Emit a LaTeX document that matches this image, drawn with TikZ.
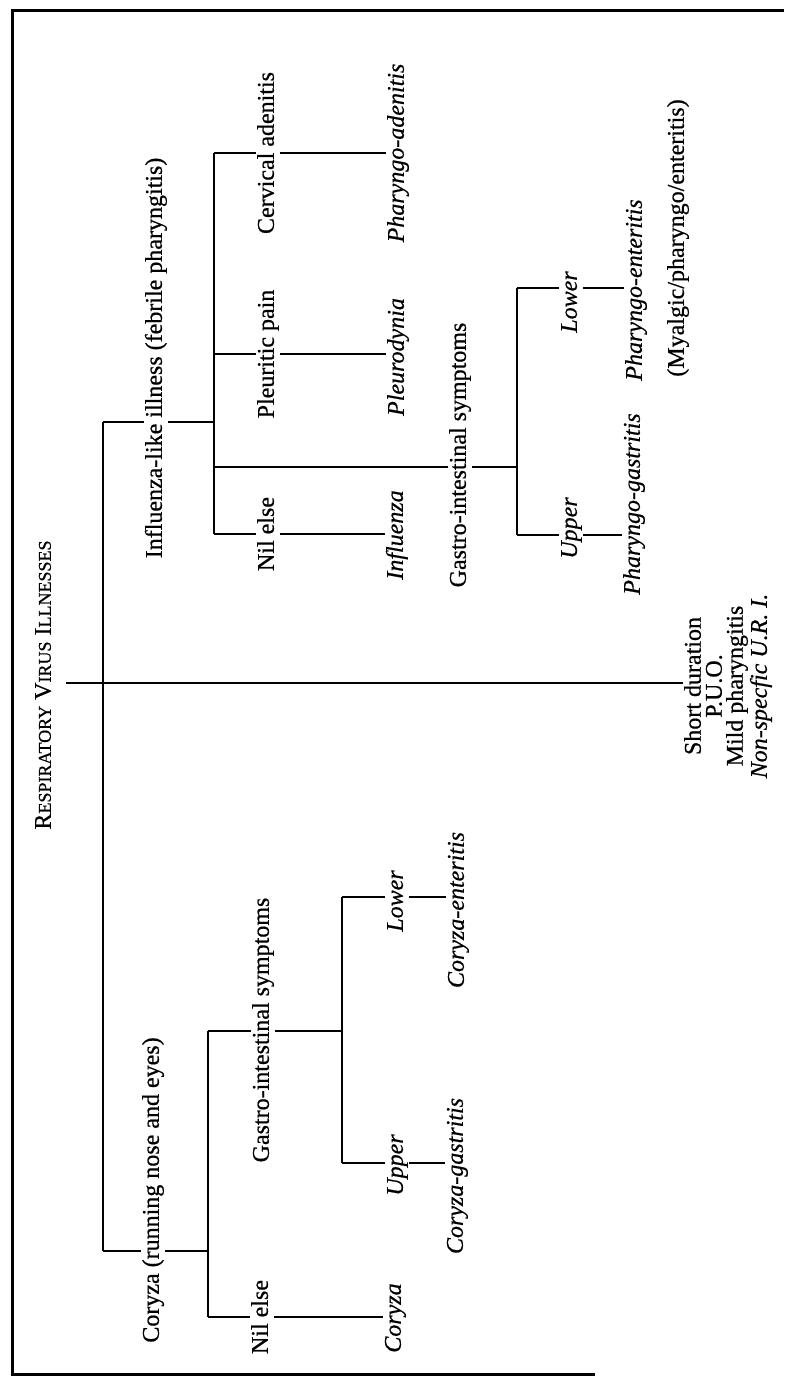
\documentclass[tikz,border=0pt]{standalone}
\usepackage{fontspec}
\setmainfont{Liberation Serif}[FakeBold=0.6]
\usetikzlibrary{backgrounds}
\newcommand\smallcap[2]{#1{\fontsize{9}{10}\selectfont #2}}
\begin{document}
\begin{tikzpicture}[x=0.5pt,y=-0.5pt,
    lbl/.style={rotate=90,fill=white,inner sep=0.5pt,text height=8.2pt,text depth=2.4pt,
      font=\fontsize{12}{14}\selectfont},
    res/.style={lbl,font=\fontsize{12}{14}\selectfont\itshape},
    link/.style={line width=0.9pt}]
  \useasboundingbox (0,0) rectangle (784,1376);
  \draw[line width=1.5pt] (784,10) -- (12,10) -- (12,1374) -- (595,1374);
  % labels
  \node[lbl] (title) at (45,685) {\smallcap{R}{ESPIRATORY} \smallcap{V}{IRUS} \smallcap{I}{LLNESSES}};
  \node[lbl] (flu) at (156,358) {Influenza-like illness (febrile pharyngitis)};
  \node[lbl] (cerv) at (268,153) {Cervical adenitis};
  \node[lbl] (pleu) at (268,354) {Pleuritic pain};
  \node[lbl] (fnil) at (268,534) {Nil else};
  \node[lbl] (fgi) at (460,455) {Gastro-intestinal symptoms};
  \node[res] (padn) at (398,153) {Pharyngo-adenitis};
  \node[res] (pdyn) at (398,357) {Pleurodynia};
  \node[res] (infl) at (397,535) {Influenza};
  \node[res] (flow) at (571,302) {Lower};
  \node[res] (fup) at (571,528) {Upper};
  \node[res] (pent) at (636,290) {Pharyngo-enteritis};
  \node[res] (pgas) at (634,504) {Pharyngo-gastritis};
  \node[lbl] (myal) at (678,238) {(Myalgic/pharyngo/enteritis)};
  \node[lbl,align=center,text height={},text depth={},font=\fontsize{12}{10.5}\selectfont]
    (short) at (728,686) {Short duration\\P.U.O.\\Mild pharyngitis\\\textit{Non-specfic U.R. I.}};
  \node[lbl] (cor) at (153,1190) {Coryza (running nose and eyes)};
  \node[lbl] (cgi) at (263,1030) {Gastro-intestinal symptoms};
  \node[lbl] (cnil) at (262,1317) {Nil else};
  \node[res] (coryz) at (395,1318) {Coryza};
  \node[res] (clow) at (397,901) {Lower};
  \node[res] (cup) at (397,1165) {Upper};
  \node[res] (cent) at (458,910) {Coryza-enteritis};
  \node[res] (cgas) at (457,1176) {Coryza-gastritis};
  % junctions
  \coordinate (rootL) at (66,683);
  \coordinate (fluJ) at (103,422);
  \coordinate (corJ) at (103,1251);
  \coordinate (fluT) at (214,153);
  \coordinate (fluB) at (214,534);
  \coordinate (fgiJ) at (517,467);
  \coordinate (flowJ) at (517,288);
  \coordinate (fupJ) at (517,535);
  \coordinate (corT) at (208,1031);
  \coordinate (corB) at (208,1317);
  \coordinate (cgiJ) at (342,1031);
  \coordinate (clowJ) at (342,897);
  \coordinate (cupJ) at (342,1163);
  \begin{pgfonlayer}{background}
    \begin{scope}[link]
      \draw (rootL) -- (rootL -| short.north);
      \draw (fluJ) -- (corJ);
      \draw (fluJ) -- (fluJ -| fluT);
      \draw (corJ) -- (corJ -| corT);
      \draw (fluT) -- (fluB);
      \draw (fluT) -- (fluT -| padn.north);
      \draw (fluT |- pleu) -- (pleu -| pdyn.north);
      \draw (fluT |- fgiJ) -- (fgiJ);
      \draw (fluB) -- (fluB -| infl.north);
      \draw (flowJ) -- (fupJ);
      \draw (flowJ) -- (flowJ -| pent.north);
      \draw (fupJ) -- (fupJ -| pgas.north);
      \draw (corT) -- (corB);
      \draw (corT) -- (cgiJ);
      \draw (corB) -- (corB -| coryz.north);
      \draw (clowJ) -- (cupJ);
      \draw (clowJ) -- (clowJ -| cent.north);
      \draw (cupJ) -- (cupJ -| cgas.north);
    \end{scope}
  \end{pgfonlayer}
\end{tikzpicture}
\end{document}
